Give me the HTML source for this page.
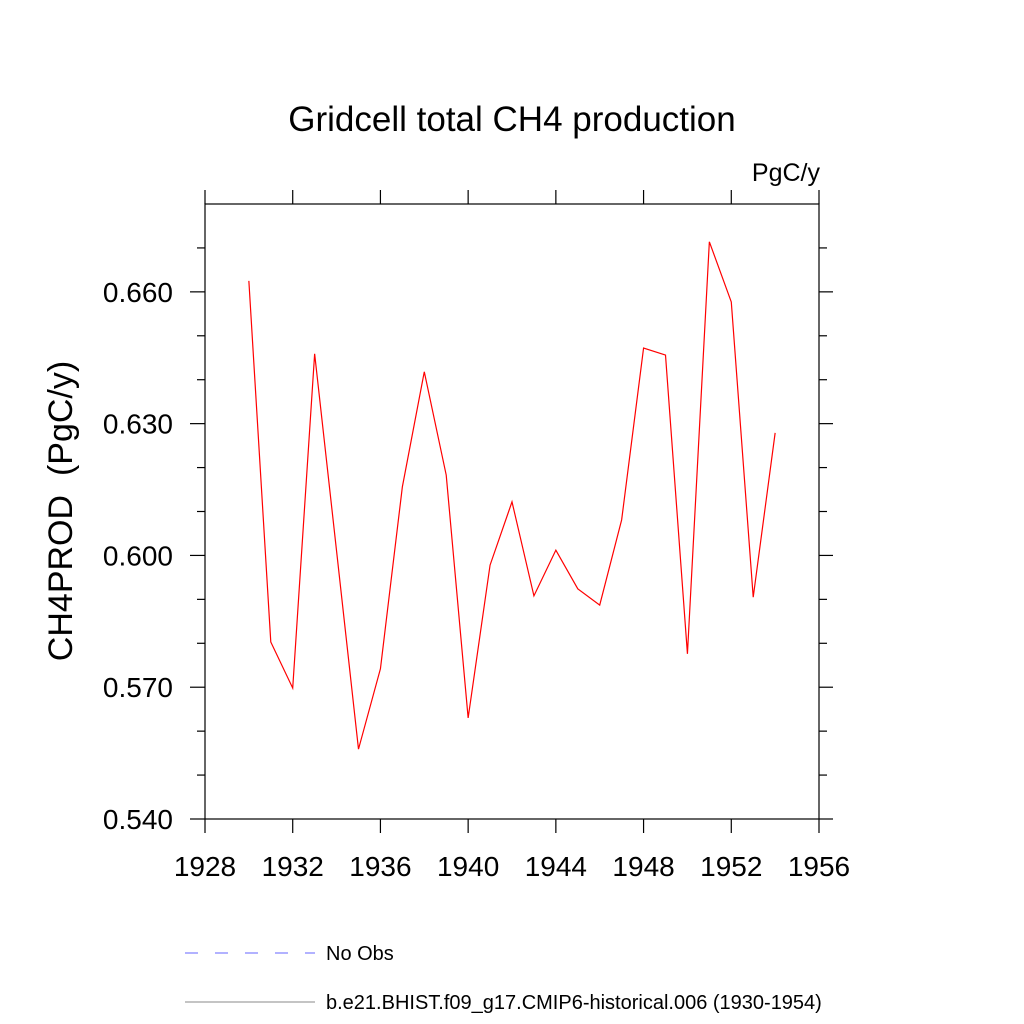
<!DOCTYPE html>
<html><head><meta charset="utf-8"><style>body{margin:0;background:#fff}svg{display:block}</style></head>
<body>
<svg id="c" width="1024" height="1024" xmlns="http://www.w3.org/2000/svg" font-family="Liberation Sans, sans-serif">
<rect width="1024" height="1024" fill="#fff"/>
<text x="512" y="131" font-size="35" text-anchor="middle">Gridcell total CH4 production</text>
<text x="820" y="181" font-size="25" text-anchor="end">PgC/y</text>
<text transform="translate(72,511) rotate(-90)" font-size="34" text-anchor="middle" style="white-space:pre">CH4PROD  (PgC/y)</text>
<rect x="205" y="204" width="614" height="615" fill="none" stroke="#000" stroke-width="1.2"/>
<g id="axes"></g>
<polyline id="series" fill="none" stroke="#f00" stroke-width="1.2"/>
<line x1="185" y1="953" x2="315" y2="953" stroke="#66f" stroke-width="1" stroke-dasharray="13,17"/>
<text x="326" y="960" font-size="20">No Obs</text>
<line x1="185" y1="1002" x2="315" y2="1002" stroke="#888" stroke-width="1"/>
<text x="326" y="1009" font-size="20">b.e21.BHIST.f09_g17.CMIP6-historical.006 (1930-1954)</text>
</svg>
<script>
const years=[1930,1931,1932,1933,1934,1935,1936,1937,1938,1939,1940,1941,1942,1943,1944,1945,1946,1947,1948,1949,1950,1951,1952,1953,1954];
const values=[0.6625,0.5803,0.5698,0.6459,0.601,0.5559,0.5742,0.6156,0.6418,0.6183,0.5630,0.5978,0.6122,0.5908,0.6012,0.5924,0.5887,0.6081,0.6472,0.6456,0.5776,0.6714,0.6577,0.5905,0.6279];
const xTicks=[1928,1932,1936,1940,1944,1948,1952,1956];
const yTicks=[0.540,0.570,0.600,0.630,0.660];
const yMinor=[0.550,0.560,0.580,0.590,0.610,0.620,0.640,0.650,0.670];
const X=v=>205+(v-1928)/(1956-1928)*614;
const Y=v=>819-(v-0.540)/(0.680-0.540)*615;
const NS='http://www.w3.org/2000/svg';
const g=document.getElementById('axes');
function ln(x1,y1,x2,y2,n){const l=document.createElementNS(NS,'line');l.setAttribute('x1',x1);l.setAttribute('y1',y1);l.setAttribute('x2',x2);l.setAttribute('y2',y2);l.setAttribute('stroke','#000');l.setAttribute('stroke-width','1.2');


g.appendChild(l);}
function tx(x,y,s,a,n){const t=document.createElementNS(NS,'text');t.setAttribute('x',x);t.setAttribute('y',y);t.setAttribute('font-size','28');t.setAttribute('text-anchor',a);t.textContent=s;


g.appendChild(t);}
xTicks.forEach(v=>{const x=X(v);ln(x,819,x,833,'x-tick');ln(x,204,x,190,'x-tick-top');tx(x,876,String(v),'middle','x-tick-label');});
yTicks.forEach(v=>{const y=Y(v);ln(190,y,205,y,'y-tick');ln(819,y,833,y,'y-tick-right');tx(173,y+10,v.toFixed(3),'end','y-tick-label');});
yMinor.forEach(v=>{const y=Y(v);ln(197,y,205,y,'y-minor-tick');ln(819,y,827,y,'y-minor-tick-right');});
document.getElementById('series').setAttribute('points',years.map((yr,i)=>X(yr)+','+Y(values[i])).join(' '));
</script>
</body></html>
